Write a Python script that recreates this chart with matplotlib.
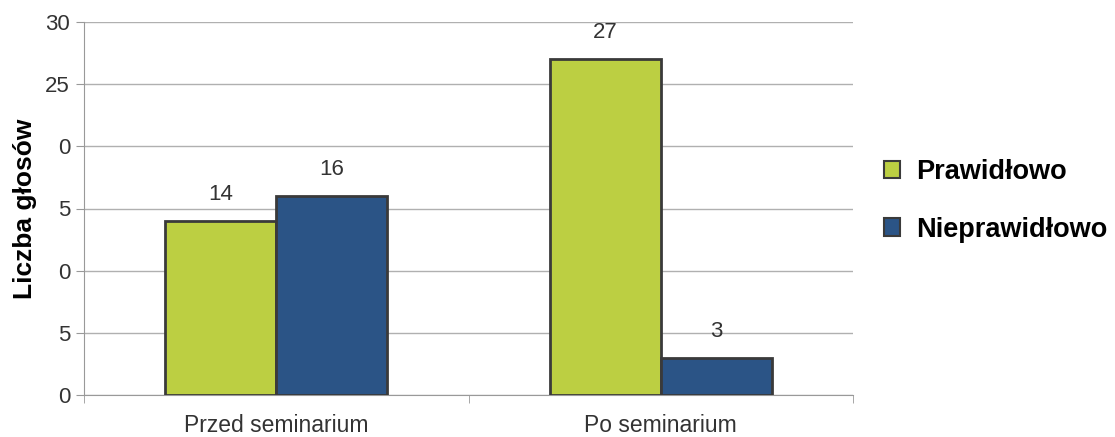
import matplotlib
matplotlib.use("Agg")
import matplotlib.pyplot as plt
from matplotlib.patches import Patch
import numpy as np

categories = ["Przed seminarium", "Po seminarium"]
series_names = ["Prawidłowo", "Nieprawidłowo"]
prawidlowo = [14, 27]
nieprawidlowo = [16, 3]
ytick_values = [0, 5, 10, 15, 20, 25, 30]
ytick_labels = ["0", "5", "0", "5", "0", "25", "30"]
colors = ["#bccf42", "#2b5486"]

plt.rcParams['font.family'] = ['Liberation Sans', 'DejaVu Sans']

fig = plt.figure(figsize=(11.15, 4.37), dpi=100)
ax = fig.add_axes([84/1115, 1-395/437, (853-84)/1115, (395-22)/437])

x = np.arange(len(categories))
w = 0.289
b1 = ax.bar(x - w/2, prawidlowo, w, color=colors[0], edgecolor="#3a3a3a", linewidth=2, zorder=3)
b2 = ax.bar(x + w/2, nieprawidlowo, w, color=colors[1], edgecolor="#3a3a3a", linewidth=2, zorder=3)

for bars, vals in ((b1, prawidlowo), (b2, nieprawidlowo)):
    for r, v in zip(bars, vals):
        ax.text(r.get_x() + r.get_width()/2, v + 1.3, str(v), ha="center", va="bottom",
                fontsize=16, color="#333333")

ax.set_xlim(-0.5, len(categories) - 0.5)
ax.set_ylim(0, 30)
ax.set_yticks(ytick_values)
ax.set_yticklabels(ytick_labels)
ax.yaxis.grid(True, color="#b0b0b0", linewidth=1, zorder=0)
ax.set_axisbelow(True)

ax.set_xticks(x)
ax.set_xticklabels(categories)
ax.tick_params(axis="x", length=0, labelsize=16.5, colors="#333333", pad=14)
ax.set_xticks([-0.5, 0.5, 1.5], minor=True)
ax.tick_params(axis="x", which="minor", length=6, color="#999999", direction="out")
ax.tick_params(axis="y", length=6, color="#999999", labelsize=16, labelcolor="#333333", pad=4)

for s in ("top", "right"):
    ax.spines[s].set_visible(False)
ax.spines["left"].set_color("#999999")
ax.spines["bottom"].set_color("#999999")

ax.set_ylabel("Liczba głosów", fontsize=19, fontweight="bold", labelpad=6)

handles = [Patch(facecolor=c, edgecolor="#3a3a3a", linewidth=1.5) for c in colors]
fig.legend(handles, series_names, loc="center left", bbox_to_anchor=(876/1115, 1-201/437),
           frameon=False, prop={"weight": "bold", "size": 19.5}, handlelength=0.6, handleheight=0.6,
           labelspacing=1.15, handletextpad=0.6, borderaxespad=0, borderpad=0.3)

fig.savefig("out.png", dpi=100)
